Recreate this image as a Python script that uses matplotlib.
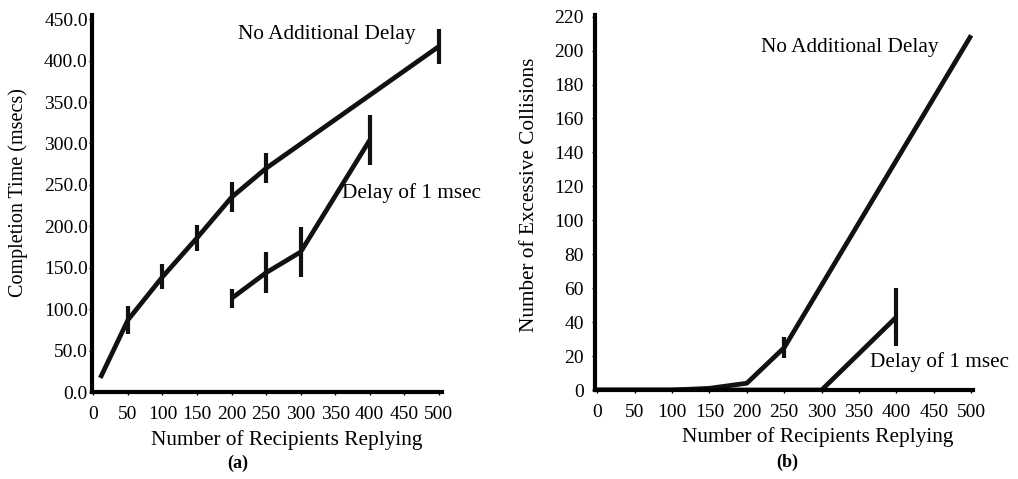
import matplotlib
matplotlib.use("Agg")
import matplotlib.pyplot as plt

plt.rcParams['font.family'] = ['Liberation Serif', 'DejaVu Serif']

# (a) completion time
recip_nodelay_a = [10, 50, 100, 150, 200, 250, 500]
time_nodelay = [17, 87, 139, 186, 235, 270, 417]
err_nodelay = [0, 17, 15, 16, 18, 18, 21]

recip_delay_a = [200, 250, 300, 400]
time_delay = [113, 144, 169, 304]
err_delay = [11, 25, 30, 30]

# (b) excessive collisions
recip_nodelay_b = [0, 50, 100, 150, 200, 250, 500]
coll_nodelay = [0, 0, 0, 1, 4, 25, 209]
err_coll_nodelay = [0, 0, 0, 0, 0, 6, 0]

recip_delay_b = [0, 300, 400]
coll_delay = [0, 0, 43]
err_coll_delay = [0, 0, 17]

xticks = list(range(0, 501, 50))
yticks_a = list(range(0, 451, 50))
yticks_b = list(range(0, 221, 20))

LW = 3.4
TICK_FS = 14
LABEL_FS = 15.3
fig = plt.figure(figsize=(10.18, 4.79), dpi=100)


def style_axes(ax, ypad):
    for s in ('top', 'right'):
        ax.spines[s].set_visible(False)
    for s in ('left', 'bottom'):
        ax.spines[s].set_linewidth(3)
    ax.tick_params(axis='x', direction='out', length=2, width=1,
                   labelsize=TICK_FS, pad=8)
    ax.tick_params(axis='y', direction='out', length=2, width=1,
                   labelsize=TICK_FS, pad=ypad)


def draw_series(ax, x, y, err):
    ax.plot(x, y, color='#111111', lw=LW, solid_capstyle='butt')
    for xi, yi, ei in zip(x, y, err):
        if ei > 0:
            ax.plot([xi, xi], [yi - ei, yi + ei], color='#111111', lw=3,
                    solid_capstyle='butt')


ax1 = fig.add_axes([0.0904, 0.1816, 0.344, 0.787])
draw_series(ax1, recip_nodelay_a, time_nodelay, err_nodelay)
draw_series(ax1, recip_delay_a, time_delay, err_delay)
ax1.set_xlim(-2, 505)
ax1.set_ylim(0, 455)
ax1.set_xticks(xticks)
ax1.set_yticks(yticks_a)
ax1.set_yticklabels([f"{v:.1f}" for v in yticks_a])
style_axes(ax1, 1)
ax1.text(209, 431, "No Additional Delay", fontsize=LABEL_FS, va='center')
ax1.text(360, 240, "Delay of 1 msec", fontsize=LABEL_FS, va='center')

ax2 = fig.add_axes([0.5845, 0.1858, 0.371, 0.783])
draw_series(ax2, recip_nodelay_b, coll_nodelay, err_coll_nodelay)
draw_series(ax2, recip_delay_b, coll_delay, err_coll_delay)
ax2.set_xlim(-3, 502)
ax2.set_ylim(0, 221)
ax2.set_xticks(xticks)
ax2.set_yticks(yticks_b)
style_axes(ax2, 6)
ax2.text(219, 202, "No Additional Delay", fontsize=LABEL_FS, va='center')
ax2.text(365, 16.5, "Delay of 1 msec", fontsize=LABEL_FS, va='center')

# axis titles placed in figure coordinates
fig.text(287 / 1018, 1 - 440 / 479, "Number of Recipients Replying",
         fontsize=LABEL_FS, ha='center', va='center')
fig.text(818 / 1018, 1 - 437 / 479, "Number of Recipients Replying",
         fontsize=LABEL_FS, ha='center', va='center')
fig.text(18 / 1018, 1 - 193 / 479, "Completion Time (msecs)",
         fontsize=14.5, ha='center', va='center', rotation=90)
fig.text(530 / 1018, 1 - 195 / 479, "Number of Excessive Collisions",
         fontsize=LABEL_FS, ha='center', va='center', rotation=90)
fig.text(238 / 1018, 1 - 463 / 479, "(a)", fontsize=13, fontweight='bold',
         ha='center', va='center')
fig.text(787 / 1018, 1 - 462 / 479, "(b)", fontsize=13, fontweight='bold',
         ha='center', va='center')

fig.savefig("out.png", dpi=100)
